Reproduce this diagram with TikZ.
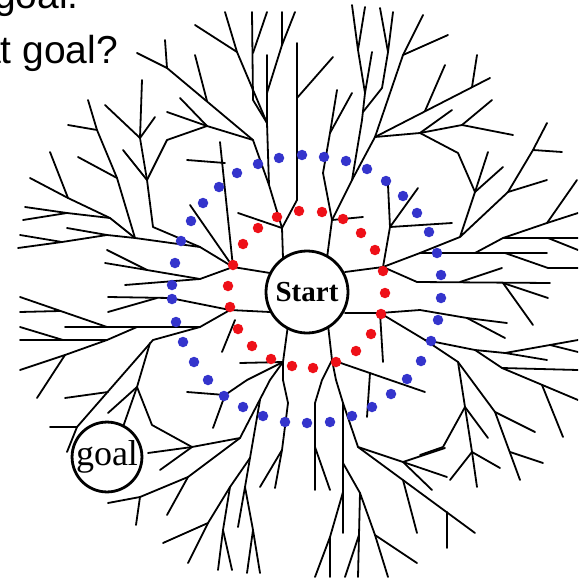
\documentclass[tikz,border=0pt]{standalone}
\usepackage{fontspec}
\setmainfont{Liberation Serif}
\newfontfamily\slidefont{Liberation Sans}
\definecolor{dotred}{RGB}{238,16,24}
\definecolor{dotblue}{RGB}{52,52,204}
\begin{document}
\begin{tikzpicture}[x=1pt, y=-1pt,
    branch/.style={line width=1.8pt, line cap=round, line join=round, black},
    reddot/.style={circle, fill=dotred, inner sep=0pt, minimum size=10.5pt},
    bluedot/.style={circle, fill=dotblue, inner sep=0pt, minimum size=10.5pt},
    place/.style={circle, draw=black, fill=white, line width=2.8pt, inner sep=0pt},
    slidetext/.style={font=\slidefont\fontsize{39}{44}\selectfont, inner sep=0pt}]

  \useasboundingbox (0,0) rectangle (578,580);
  \clip (0,0) rectangle (578,580);

  % slide text, cut by the page edge
  \node[slidetext, anchor=base west] (lineone) at (-6,9) {goal.};
  \node[slidetext, anchor=base east] (linetwo) at (118,64) {that goal?};

  % stem going up, left of centre
  \draw[branch] (283,258) -- (282,228) -- (269,185) -- (267,123) -- (267,55);
  \draw[branch] (282,228) -- (238,213);
  \draw[branch] (282,228) -- (297,200) -- (297,98) -- (297,43);
  \draw[branch] (297,98) -- (333,57);
  \draw[branch] (267,93) -- (282,45) -- (295,12);
  \draw[branch] (282,45) -- (282,12);
  \draw[branch] (267,123) -- (253,100) -- (252,12);
  \draw[branch] (253,53) -- (267,12);
  \draw[branch] (267,123) -- (237,52) -- (225,12);
  \draw[branch] (237,52) -- (195,25);
  \draw[branch] (269,185) -- (253,140) -- (167,68) -- (137,53);
  \draw[branch] (167,68) -- (165,40);
  \draw[branch] (207,101) -- (195,55);
  \draw[branch] (253,140) -- (207,126) -- (167,112);
  \draw[branch] (207,126) -- (180,98);
  \draw[branch] (207,126) -- (167,140);

  % stem going up, right of centre
  \draw[branch] (327,258) -- (332,220) -- (323,173) -- (330,133) -- (337,90);
  \draw[branch] (330,133) -- (352,93);
  \draw[branch] (332,220) -- (363,217);
  \draw[branch] (332,220) -- (352,180) -- (362,120) -- (365,93) -- (358,50) -- (352,5);
  \draw[branch] (358,50) -- (365,7);
  \draw[branch] (365,93) -- (372,52);
  \draw[branch] (363,112) -- (382,88) -- (388,52) -- (380,8);
  \draw[branch] (388,52) -- (393,12);
  \draw[branch] (352,180) -- (375,137) -- (490,78);
  \draw[branch] (425,111) -- (445,65);
  \draw[branch] (472,87) -- (477,55);
  \draw[branch] (375,137) -- (403,55) -- (423,15);
  \draw[branch] (403,55) -- (448,35);
  \draw[branch] (375,137) -- (420,133) -- (452,110);
  \draw[branch] (420,133) -- (462,125) -- (513,135);
  \draw[branch] (462,125) -- (492,100);
  \draw[branch] (420,133) -- (458,153) -- (475,192) -- (488,152);
  \draw[branch] (475,192) -- (503,167);
  \draw[branch] (475,192) -- (460,237) -- (508,192) -- (533,150) -- (547,123);
  \draw[branch] (533,150) -- (562,152);
  \draw[branch] (508,192) -- (547,180);

  % stem to the right, upper
  \draw[branch] (345,272) -- (383,267) -- (390,227) -- (388,185);
  \draw[branch] (390,227) -- (418,188);
  \draw[branch] (390,227) -- (452,223);
  \draw[branch] (383,267) -- (420,253) -- (547,253);
  \draw[branch] (420,253) -- (460,237);
  \draw[branch] (475,253) -- (503,238) -- (578,238);
  \draw[branch] (503,238) -- (547,223) -- (578,213);
  \draw[branch] (547,223) -- (577,180);
  \draw[branch] (548,238) -- (578,250);
  \draw[branch] (505,253) -- (548,268) -- (578,268);
  \draw[branch] (383,267) -- (417,282) -- (550,283);
  \draw[branch] (460,282) -- (502,268);
  \draw[branch] (503,283) -- (548,298);
  \draw[branch] (503,283) -- (533,325);

  % stem to the right, lower
  \draw[branch] (345,313) -- (380,313) -- (420,310) -- (467,318) -- (507,323);
  \draw[branch] (467,318) -- (505,338);
  \draw[branch] (380,313) -- (383,362);
  \draw[branch] (380,313) -- (425,340) -- (475,350) -- (505,353) -- (547,360);
  \draw[branch] (505,353) -- (578,340);
  \draw[branch] (550,345) -- (578,352);
  \draw[branch] (475,350) -- (502,368) -- (578,370);
  \draw[branch] (502,368) -- (578,400);
  \draw[branch] (542,385) -- (563,437);
  \draw[branch] (425,340) -- (458,362) -- (465,407) -- (443,447) -- (420,455);
  \draw[branch] (465,407) -- (488,438);
  \draw[branch] (465,407) -- (472,452) -- (450,480);
  \draw[branch] (472,452) -- (477,487);
  \draw[branch] (472,452) -- (500,468);
  \draw[branch] (458,362) -- (495,412) -- (535,432);
  \draw[branch] (495,412) -- (520,480);
  \draw[branch] (510,452) -- (543,463);

  % stem going down, right of centre
  \draw[branch] (328,325) -- (332,360) -- (425,392);
  \draw[branch] (370,373) -- (367,417);
  \draw[branch] (332,360) -- (322,380) -- (315,403) -- (315,490);
  \draw[branch] (315,447) -- (330,490);
  \draw[branch] (332,360) -- (336,380) -- (343,403) -- (343,533);
  \draw[branch] (343,403) -- (358,447) -- (403,462) -- (445,448);
  \draw[branch] (403,462) -- (447,477);
  \draw[branch] (403,462) -- (432,490);
  \draw[branch] (358,447) -- (475,533);
  \draw[branch] (403,480) -- (417,533);
  \draw[branch] (447,512) -- (447,548);
  \draw[branch] (343,463) -- (360,493) -- (358,577);
  \draw[branch] (360,493) -- (375,535) -- (417,563);
  \draw[branch] (375,535) -- (388,577);
  \draw[branch] (359,535) -- (345,577);
  \draw[branch] (343,492) -- (330,537) -- (315,577);
  \draw[branch] (330,537) -- (330,577);

  % stem going down, left of centre
  \draw[branch] (288,325) -- (283,362) -- (240,363);
  \draw[branch] (283,362) -- (283,380) -- (288,403) -- (282,450) -- (260,487);
  \draw[branch] (282,450) -- (275,488);
  \draw[branch] (283,362) -- (270,380) -- (240,438) -- (192,447) -- (152,425) -- (137,387);
  \draw[branch] (192,447) -- (148,453);
  \draw[branch] (192,447) -- (160,470);
  \draw[branch] (240,438) -- (188,477) -- (140,497) -- (108,503);
  \draw[branch] (188,477) -- (167,515);
  \draw[branch] (140,497) -- (136,525);
  \draw[branch] (260,400) -- (250,458) -- (230,487) -- (208,523) -- (163,543);
  \draw[branch] (208,523) -- (188,563);
  \draw[branch] (230,487) -- (223,530) -- (218,570);
  \draw[branch] (223,530) -- (232,570);
  \draw[branch] (250,458) -- (245,487) -- (238,527);
  \draw[branch] (245,487) -- (253,530) -- (247,573);
  \draw[branch] (253,530) -- (260,573);
  \draw[branch] (283,362) -- (247,380) -- (225,395) -- (213,428);
  \draw[branch] (225,395) -- (187,392);

  % stem to the left, lower
  \draw[branch] (270,312) -- (230,310) -- (200,327) -- (65,327);
  \draw[branch] (107,327) -- (20,297);
  \draw[branch] (60,311) -- (20,312);
  \draw[branch] (137,327) -- (107,340) -- (20,340);
  \draw[branch] (63,340) -- (20,327);
  \draw[branch] (107,340) -- (65,355) -- (20,370);
  \draw[branch] (65,355) -- (37,398);
  \draw[branch] (200,327) -- (153,340) -- (77,427) -- (50,427);
  \draw[branch] (77,427) -- (67,452);
  \draw[branch] (108,392) -- (65,398);
  \draw[branch] (150,343) -- (137,387) -- (108,413);
  \draw[branch] (137,387) -- (123,427);
  \draw[branch] (230,310) -- (170,298) -- (108,297);
  \draw[branch] (157,298) -- (108,312);
  \draw[branch] (235,320) -- (222,352);

  % stem to the left, upper
  \draw[branch] (270,273) -- (233,267) -- (200,279) -- (147,270) -- (107,250);
  \draw[branch] (147,270) -- (105,263);
  \draw[branch] (200,279) -- (125,285);
  \draw[branch] (233,267) -- (200,247) -- (135,238) -- (110,218) -- (68,198) -- (50,152);
  \draw[branch] (68,198) -- (30,178);
  \draw[branch] (110,218) -- (67,213) -- (25,207);
  \draw[branch] (67,213) -- (23,220);
  \draw[branch] (135,238) -- (107,235) -- (62,242) -- (20,235);
  \draw[branch] (62,242) -- (18,248);
  \draw[branch] (107,235) -- (67,228);
  \draw[branch] (135,238) -- (117,178) -- (97,130) -- (88,100);
  \draw[branch] (97,130) -- (68,125);
  \draw[branch] (117,178) -- (78,157);
  \draw[branch] (200,247) -- (153,227) -- (147,180) -- (140,138) -- (105,105);
  \draw[branch] (140,138) -- (142,80);
  \draw[branch] (140,138) -- (155,117);
  \draw[branch] (147,180) -- (123,150);
  \draw[branch] (147,180) -- (167,140);
  \draw[branch] (233,267) -- (220,142);
  \draw[branch] (225,163) -- (187,160);
  \draw[branch] (190,205) -- (233,267);

  % inner ring
  \foreach \p in {(277,217),(299,211),(322,212),(343,219),(361,233),(375,250),
                  (383,271),(385,293),(381,314),(371,334),(356,351),(336,362),
                  (313,368),(292,366),(271,359),(252,346),(238,329),(230,307),
                  (228,286),(233,265),(243,244),(258,228)}
    \node[reddot] at \p {};

  % outer ring
  \foreach \p in {(279,158),(302,155),(324,157),(346,161),(367,169),(386,181),
                  (403,196),(417,213),(429,232),(437,253),(441,275),(441,298),
                  (438,320),(431,341),(421,361),(407,379),(391,394),(372,407),
                  (352,416),(330,422),(307,423),(285,422),(263,416),(243,407),
                  (224,396),(208,380),(194,362),(183,342),(176,322),(172,299),
                  (172,285),(175,263),(181,241),(191,221),(203,203),(219,187),
                  (237,173),(258,164)}
    \node[bluedot] at \p {};

  \node[place, minimum size=82pt, font=\fontsize{29}{31}\selectfont\bfseries] (start) at (307,292) {Start};
  \node[place, minimum size=66pt, font=\fontsize{36}{38}\selectfont] (goal) at (107,457) {goal};
\end{tikzpicture}
\end{document}
